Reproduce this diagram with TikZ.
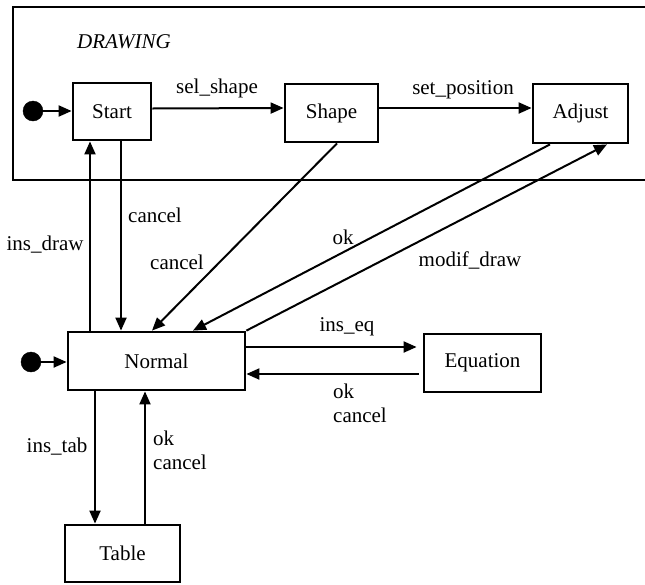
\documentclass[tikz,border=0pt]{standalone}
\usepackage{fontspec}
\setmainfont{Liberation Serif}
\usetikzlibrary{arrows.meta,calc}

\tikzset{
  state/.style={draw, line width=2.8pt, rectangle, inner sep=0pt,
    font=\fontsize{21}{24}\selectfont},
  lbl/.style={inner sep=0pt, font=\fontsize{21}{24}\selectfont},
  arr/.style={line width=2pt, -{Triangle[length=13pt,width=11pt]}},
  initdot/.style={circle, fill=black, draw=black, minimum size=20pt, inner sep=0pt},
  frame/.style={line width=2.8pt}
}

\begin{document}
\begin{tikzpicture}[x=1pt,y=-1pt]
  \useasboundingbox (0,0) rectangle (645,584);

  % composite state DRAWING (open on the right)
  \draw[frame] (660,7) -- (13,7) -- (13,180) -- (660,180);
  \node[lbl, anchor=west, font=\fontsize{21}{24}\selectfont\itshape] (drawing) at (77,42) {DRAWING};

  % states
  \node[state, minimum width=78pt, minimum height=57pt] (Start)    at (112,111.5) {Start};
  \node[state, minimum width=93pt, minimum height=58pt] (Shape)    at (331.5,113) {Shape};
  \node[state, minimum width=95pt, minimum height=59pt] (Adjust)   at (580.5,113.5) {Adjust};
  \node[state, minimum width=177pt, minimum height=58pt] (Normal)  at (156.5,361) {Normal};
  \node[state, minimum width=117pt, minimum height=58pt] (Equation) at (482.5,363) {Equation};
  \node[state, minimum width=115pt, minimum height=57pt] (Table)   at (122.5,553.5) {Table};

  % initial pseudo-states
  \node[initdot] (init1) at (33,111) {};
  \node[initdot] (init2) at (31,362) {};
  \draw[arr] (init1) -- (Start.west |- init1);
  \draw[arr] (init2) -- (Normal.west |- init2);

  % inside DRAWING
  \draw[arr] ([yshift=3pt]Start.east) -- ([yshift=5pt]Shape.west);
  \node[lbl] (lsel) at (217,88) {sel\_shape};
  \draw[arr] ([yshift=5pt]Shape.east) -- ([yshift=5.5pt]Adjust.west);
  \node[lbl] (lset) at (463,90) {set\_position};

  % Start <-> Normal
  \draw[arr] ([xshift=-66.5pt]Normal.north) -- ([xshift=-22pt]Start.south);
  \node[lbl] (lins) at (45,245) {ins\_draw};
  \draw[arr] ([xshift=9pt]Start.south) -- ([xshift=-35.5pt]Normal.north);
  \node[lbl] (lc1) at (155,215) {cancel};

  % Shape -> Normal
  \draw[arr] ([xshift=5.5pt]Shape.south) -- ([xshift=-4.5pt]Normal.north);
  \node[lbl] (lc2) at (177,262) {cancel};

  % Adjust <-> Normal
  \draw[arr] ([xshift=-30.5pt]Adjust.south) -- ([xshift=36.5pt]Normal.north);
  \node[lbl] (lok) at (343,237) {ok};
  \draw[arr] (Normal.north east) -- ([xshift=26.5pt]Adjust.south);
  \node[lbl] (lmod) at (470,260) {modif\_draw};

  % Normal <-> Equation
  \draw[arr] ([yshift=14pt]Normal.east) -- ([yshift=16pt,xshift=-6pt]Equation.west);
  \node[lbl] (leq) at (347,327) {ins\_eq};
  \draw[arr] ([yshift=-11pt,xshift=-4pt]Equation.west) -- ([yshift=-13pt]Normal.east);
  \node[lbl, anchor=north west, align=left] (lokc1) at (333,384) {ok\\cancel};

  % Normal <-> Table
  \draw[arr] ([xshift=-61.5pt]Normal.south) -- ([xshift=-27.5pt]Table.north);
  \node[lbl] (ltab) at (57,447) {ins\_tab};
  \draw[arr] ([xshift=22.5pt]Table.north) -- ([xshift=-11.5pt]Normal.south);
  \node[lbl, anchor=north west, align=left] (lokc2) at (153,431) {ok\\cancel};
\end{tikzpicture}
\end{document}
